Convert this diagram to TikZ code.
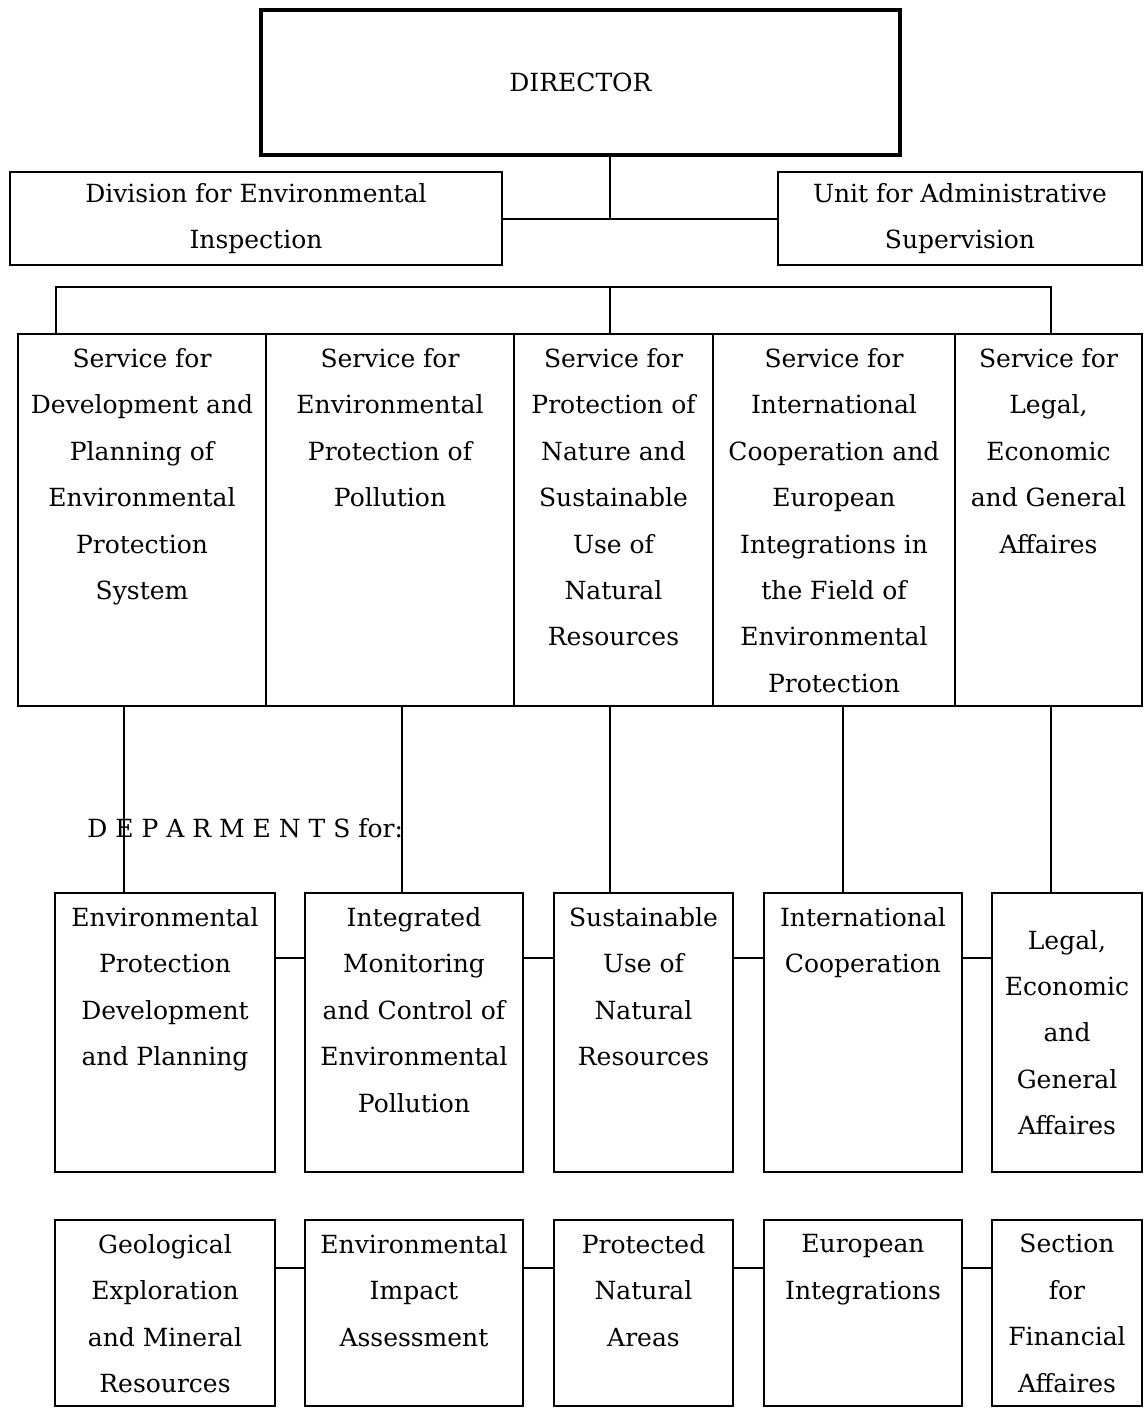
\documentclass[tikz,border=0pt]{standalone}
\usepackage{fontspec}
\setmainfont{DejaVu Serif}
\usetikzlibrary{fit}
\tikzset{
  unitbox/.style={draw, line width=1pt, inner sep=0pt},
  headbox/.style={unitbox, line width=2.2pt},
  txt/.style={align=center, font=\fontsize{12.5}{23.2}\selectfont, inner sep=0pt},
  toplabel/.style={label={[txt, anchor=north, yshift=-7.5pt]north:{#1}}},
  midlabel/.style={label={[txt]center:{#1}}},
  link/.style={line width=1pt},
}
\begin{document}
\begin{tikzpicture}[x=0.5pt, y=-0.5pt]
    \useasboundingbox (0,0) rectangle (1144,1408);

    % top level
    \node[headbox, fit={(261,10) (900,155)}, midlabel={DIRECTOR}] (dir) {};
    \node[unitbox, fit={(10,172) (502,265)}, midlabel={Division for Environmental\\Inspection}] (div) {};
    \node[unitbox, fit={(778,172) (1142,265)}, midlabel={Unit for Administrative\\Supervision}] (unit) {};
    \coordinate (trunk) at (610,0);
    \draw[link] (dir.south -| trunk) -- (trunk |- div.east);
    \draw[link] (div.east) -- (unit.west);

    % services
    \node[unitbox, fit={(18,334) (266,706)}, toplabel={Service for\\Development and\\Planning of\\Environmental\\Protection\\System}] (s1) {};
    \node[unitbox, fit={(266,334) (514,706)}, toplabel={Service for\\Environmental\\Protection of\\Pollution}] (s2) {};
    \node[unitbox, fit={(514,334) (713,706)}, toplabel={Service for\\Protection of\\Nature and\\Sustainable\\Use of\\Natural\\Resources}] (s3) {};
    \node[unitbox, fit={(713,334) (955,706)}, toplabel={Service for\\International\\Cooperation and\\European\\Integrations in\\the Field of\\Environmental\\Protection}] (s4) {};
    \node[unitbox, fit={(955,334) (1142,706)}, toplabel={Service for\\Legal,\\Economic\\and General\\Affaires}] (s5) {};

    \coordinate (barL) at (56,287);
    \coordinate (barR) at (1051,287);
    \draw[link] (barL |- s1.north) -- (barL) -- (barR) -- (barR |- s5.north);
    \draw[link] (trunk |- barL) -- (trunk |- s3.north);

    \node[txt, anchor=base west] (depttitle) at (87,837) {D E P A R M E N T S for:};

    % departments, first row
    \node[unitbox, fit={(55,893) (275,1172)}, toplabel={Environmental\\Protection\\Development\\and Planning}] (d1) {};
    \node[unitbox, fit={(305,893) (523,1172)}, toplabel={Integrated\\Monitoring\\and Control of\\Environmental\\Pollution}] (d2) {};
    \node[unitbox, fit={(554,893) (733,1172)}, toplabel={Sustainable\\Use of\\Natural\\Resources}] (d3) {};
    \node[unitbox, fit={(764,893) (962,1172)}, toplabel={International\\Cooperation}] (d4) {};
    \node[unitbox, fit={(992,893) (1142,1172)}, midlabel={Legal,\\Economic\\and\\General\\Affaires}] (d5) {};

    % departments, second row
    \node[unitbox, fit={(55,1220) (275,1406)}, toplabel={Geological\\Exploration\\and Mineral\\Resources}] (e1) {};
    \node[unitbox, fit={(305,1220) (523,1406)}, toplabel={Environmental\\Impact\\Assessment}] (e2) {};
    \node[unitbox, fit={(554,1220) (733,1406)}, toplabel={Protected\\Natural\\Areas}] (e3) {};
    \node[unitbox, fit={(764,1220) (962,1406)}, toplabel={European\\Integrations}] (e4) {};
    \node[unitbox, fit={(992,1220) (1142,1406)}, toplabel={Section\\for\\Financial\\Affaires}] (e5) {};

    \foreach \s/\d/\x in {s1/d1/124, s2/d2/402, s3/d3/610, s4/d4/843, s5/d5/1051} {
        \coordinate (drop) at (\x,0);
        \draw[link] (\s.south -| drop) -- (\d.north -| drop);
    }

    \coordinate (row1) at (0,958);
    \coordinate (row2) at (0,1268);
    \foreach \a/\b in {d1/d2, d2/d3, d3/d4, d4/d5}
        \draw[link] (\a.east |- row1) -- (\b.west |- row1);
    \foreach \a/\b in {e1/e2, e2/e3, e3/e4, e4/e5}
        \draw[link] (\a.east |- row2) -- (\b.west |- row2);
\end{tikzpicture}
\end{document}
